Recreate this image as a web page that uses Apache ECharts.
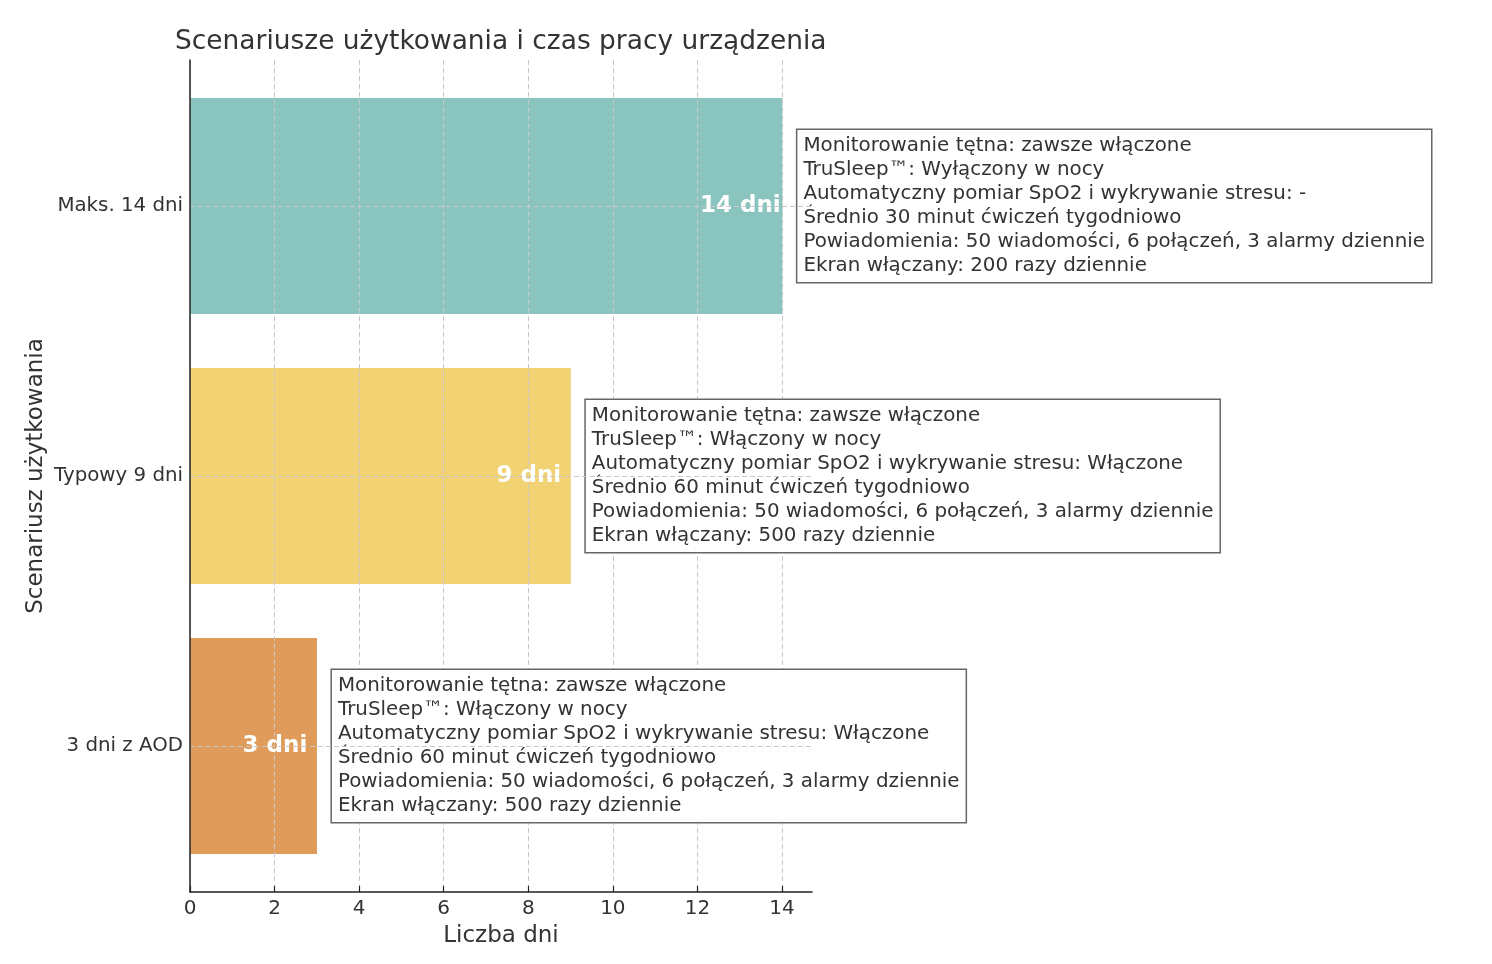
<!DOCTYPE html>
<html><head><meta charset="utf-8">
<script src="https://cdn.jsdelivr.net/npm/echarts@6/dist/echarts.min.js"></script>
<style>html,body{margin:0;padding:0;background:#fff}#c{width:1492px;height:964px}</style>
</head><body><div id="c"></div>
<script>
// ---- data ----
const categories = ['3 dni z AOD', 'Typowy 9 dni', 'Maks. 14 dni'];
const days = [3, 9, 14];
const dayLabels = ['3 dni', '9 dni', '14 dni'];
const descAOD = [
  'Monitorowanie tętna: zawsze włączone',
  'TruSleep™: Włączony w nocy',
  'Automatyczny pomiar SpO2 i wykrywanie stresu: Włączone',
  'Średnio 60 minut ćwiczeń tygodniowo',
  'Powiadomienia: 50 wiadomości, 6 połączeń, 3 alarmy dziennie',
  'Ekran włączany: 500 razy dziennie'
];
const descTypical = [
  'Monitorowanie tętna: zawsze włączone',
  'TruSleep™: Włączony w nocy',
  'Automatyczny pomiar SpO2 i wykrywanie stresu: Włączone',
  'Średnio 60 minut ćwiczeń tygodniowo',
  'Powiadomienia: 50 wiadomości, 6 połączeń, 3 alarmy dziennie',
  'Ekran włączany: 500 razy dziennie'
];
const descMax = [
  'Monitorowanie tętna: zawsze włączone',
  'TruSleep™: Wyłączony w nocy',
  'Automatyczny pomiar SpO2 i wykrywanie stresu: -',
  'Średnio 30 minut ćwiczeń tygodniowo',
  'Powiadomienia: 50 wiadomości, 6 połączeń, 3 alarmy dziennie',
  'Ekran włączany: 200 razy dziennie'
];
const descriptions = [descAOD, descTypical, descMax];
const xMin = 0, xTickMax = 14, xMax = 14.7, xInterval = 2;
const titleText = 'Scenariusze użytkowania i czas pracy urządzenia';
const xName = 'Liczba dni';
const yName = 'Scenariusz użytkowania';

// ---- style ----
const barColors = ['#e09b5a', '#f1d374', '#8ac4be'];
const FONT = 'DejaVu Sans';
const TXT = '#333333';
const gridLine = { type: [5, 3], color: '#c8c8c8', width: 1 };

const chart = echarts.init(document.getElementById('c'), null, { renderer: 'canvas' });
const hidden = { show: false };
chart.setOption({
  animation: false,
  backgroundColor: '#ffffff',
  textStyle: { fontFamily: FONT },
  title: {
    text: titleText, left: 170, top: 24,
    textStyle: { fontFamily: FONT, fontSize: 26.45, fontWeight: 'normal', color: TXT }
  },
  grid: [
    { left: 190, top: 60, width: 592, height: 832, outerBoundsMode: 'none', containLabel: false },
    { left: 190, top: 60, width: 622, height: 832, outerBoundsMode: 'none', containLabel: false },
    { left: 190, top: 71, width: 622, height: 810, outerBoundsMode: 'none', containLabel: false }
  ],
  xAxis: [
    { gridIndex: 0, type: 'value', min: xMin, max: xTickMax, interval: xInterval, z: 3,
      axisLine: hidden,
      axisTick: { show: true, inside: true, length: 6, lineStyle: { color: '#222', width: 1.2 } },
      axisLabel: { fontSize: 20, color: TXT, margin: 7, fontFamily: FONT },
      splitLine: { show: true, lineStyle: gridLine } },
    { gridIndex: 1, type: 'value', min: xMin, max: xMax, z: 5,
      axisLine: { show: true, onZero: false, lineStyle: { color: '#222', width: 1.5 } },
      axisTick: hidden, axisLabel: hidden, splitLine: hidden,
      name: xName, nameLocation: 'middle', nameGap: 33,
      nameTextStyle: { fontSize: 23, color: TXT, fontFamily: FONT } },
    { gridIndex: 2, type: 'value', min: xMin, max: xMax,
      axisLine: hidden, axisTick: hidden, axisLabel: hidden, splitLine: hidden }
  ],
  yAxis: [
    { gridIndex: 0, type: 'value', min: 0, max: 1,
      axisLine: hidden, axisTick: hidden, axisLabel: hidden, splitLine: hidden },
    { gridIndex: 1, type: 'value', min: 0, max: 1, z: 5,
      axisLine: { show: true, onZero: false, lineStyle: { color: '#222', width: 1.5 } },
      axisTick: hidden, axisLabel: hidden, splitLine: hidden },
    { gridIndex: 2, type: 'category', data: categories,
      axisLine: hidden,
      axisTick: { show: true, inside: true, alignWithLabel: true, length: 6, lineStyle: { color: '#222', width: 1.2 } },
      axisLabel: { fontSize: 19.8, color: TXT, margin: 7, fontFamily: FONT },
      splitLine: hidden,
      name: yName, nameLocation: 'middle', nameGap: 142,
      nameTextStyle: { fontSize: 23, color: TXT, fontFamily: FONT } }
  ],
  series: [
    { type: 'bar', xAxisIndex: 2, yAxisIndex: 2, z: 2, barWidth: 216, barGap: '-100%',
      data: days.map((v, i) => ({ value: v, itemStyle: { color: barColors[i] } })),
      silent: true },
    { type: 'bar', xAxisIndex: 2, yAxisIndex: 2, z: 3, barWidth: 216, barGap: '-100%',
      data: days, itemStyle: { color: 'rgba(0,0,0,0)' }, silent: true,
      markLine: {
        silent: true, symbol: ['none', 'none'], label: { show: false },
        lineStyle: gridLine,
        data: categories.map(c => ({ yAxis: c }))
      } },
    { type: 'bar', xAxisIndex: 2, yAxisIndex: 2, z: 4, barWidth: 216, barGap: '-100%',
      data: days, itemStyle: { color: 'rgba(0,0,0,0)' }, silent: true,
      label: { show: true, position: 'insideRight', distance: 42, align: 'center',
        formatter: p => dayLabels[p.dataIndex],
        fontSize: 23, fontWeight: 'bold', color: '#ffffff', fontFamily: FONT } },
    { type: 'bar', xAxisIndex: 2, yAxisIndex: 2, z: 4, barWidth: 216, barGap: '-100%',
      data: days, itemStyle: { color: 'rgba(0,0,0,0)' }, silent: true,
      label: { show: true, position: 'right', distance: 15,
        formatter: p => descriptions[p.dataIndex].join('\n'),
        fontSize: 19.87, lineHeight: 24, color: TXT, fontFamily: FONT, align: 'left',
        backgroundColor: '#ffffff', borderColor: '#666666', borderWidth: 1.5,
        padding: [4, 6, 4, 6] } }
  ]
});
</script></body></html>
